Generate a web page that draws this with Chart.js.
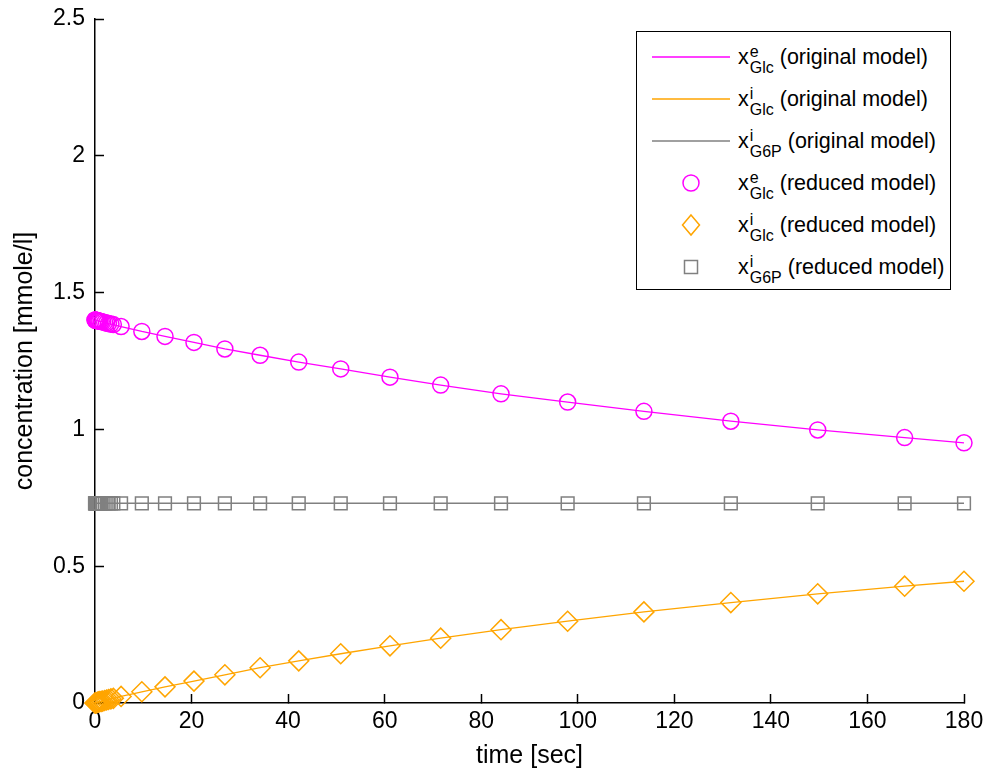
<!DOCTYPE html>
<html>
<head>
<meta charset="utf-8">
<script src="https://cdn.jsdelivr.net/npm/chart.js@4.4.1/dist/chart.umd.min.js"></script>
<style>
  body { margin: 0; background: #fff; }
  #wrap { position: relative; width: 987px; height: 773px; }
  #legend {
    position: absolute; left: 636px; top: 31px; width: 313px; height: 257px;
    border: 1.5px solid #000; background: #fff;
    font-family: "Liberation Sans", Arial, sans-serif; font-size: 21.5px; color: #000;
  }
  .row { position: absolute; left: 0; height: 42px; width: 313px; }
  .row svg { position: absolute; left: 14px; top: 0; }
  .lbl { position: absolute; left: 101px; top: 0; height: 42px; line-height: 42px; white-space: nowrap; }
  .ss { display: inline-flex; flex-direction: column; vertical-align: middle; font-size: 16px; line-height: 16px; margin-left: 1px; margin-top: 4px; }
</style>
</head>
<body>
<div id="wrap">
  <canvas id="myChart" width="987" height="773"></canvas>
  <div id="legend"></div>
</div>
<script>
// time points [sec]
const times = [0, 0.05, 0.1, 0.2, 0.3, 0.45, 0.6, 0.8, 1.0, 1.3, 1.6, 2.0, 2.4, 2.8, 3.3, 3.8,
  5.4, 9.7, 14.5, 20.5, 26.9, 34.2, 42.2, 50.9, 61.1, 71.6, 84.1, 97.9, 113.7, 131.7, 149.7, 167.7, 180]

// extracellular glucose
const glcExt = [1.400, 1.400, 1.400, 1.399, 1.399, 1.398, 1.397, 1.396, 1.395, 1.394, 1.393, 1.391, 1.389, 1.387, 1.385, 1.383,
  1.376, 1.358, 1.340, 1.318, 1.294, 1.271, 1.246, 1.221, 1.191, 1.162, 1.130, 1.100, 1.066, 1.030, 0.998, 0.970, 0.951]

// intracellular glucose
const glcInt = [0.000, 0.000, 0.000, 0.001, 0.001, 0.002, 0.003, 0.004, 0.005, 0.006, 0.007, 0.009, 0.011, 0.013, 0.015, 0.017,
  0.024, 0.041, 0.059, 0.080, 0.103, 0.129, 0.154, 0.180, 0.209, 0.237, 0.268, 0.299, 0.333, 0.367, 0.399, 0.427, 0.445]

// intracellular G6P
const g6pInt = [0.73, 0.73, 0.73, 0.73, 0.73, 0.73, 0.73, 0.73, 0.73, 0.73, 0.73, 0.73, 0.73, 0.73, 0.73, 0.73,
  0.73, 0.73, 0.73, 0.73, 0.73, 0.73, 0.73, 0.73, 0.73, 0.73, 0.73, 0.73, 0.73, 0.73, 0.73, 0.73, 0.73]

const xTicks = [0, 20, 40, 60, 80, 100, 120, 140, 160, 180]
const yTicks = [0, 0.5, 1, 1.5, 2, 2.5]

const MAGENTA = '#ff00ff'
const ORANGE = '#ffa500'
const GRAY = '#808080'
const FONT = '"Liberation Sans", Arial, sans-serif'

function pts(ys) {
  return times.map((t, i) => ({ x: t, y: ys[i] }))
}

function lineSet(ys, color) {
  return { data: pts(ys), showLine: true, borderColor: color, borderWidth: 1.3, pointRadius: 0, clip: false, order: 2 }
}

function markerSet(ys, color, style, r) {
  return { data: pts(ys), showLine: false, pointStyle: style, pointRadius: r, borderColor: color,
    backgroundColor: 'rgba(0,0,0,0)', pointBorderWidth: 1.5, clip: false, order: 1 }
}

// tick marks only, pointing into the plot (negative length)
const tickGrid = { display: true, drawOnChartArea: false, drawTicks: true, tickLength: -9, tickColor: '#000', tickWidth: 1.5 }

const chart = new Chart(document.getElementById('myChart').getContext('2d'), {
  type: 'scatter',
  data: {
    datasets: [
      lineSet(glcExt, MAGENTA),
      lineSet(glcInt, ORANGE),
      lineSet(g6pInt, GRAY),
      markerSet(glcExt, MAGENTA, 'circle', 8),
      markerSet(glcInt, ORANGE, 'rectRot', 10),
      markerSet(g6pInt, GRAY, 'rect', 9)
    ]
  },
  options: {
    responsive: false,
    animation: false,
    devicePixelRatio: 1,
    layout: { padding: { left: 0, right: 23, top: 19, bottom: 0 } },
    plugins: { legend: { display: false }, tooltip: { enabled: false } },
    scales: {
      x: {
        type: 'linear', min: 0, max: 180,
        afterFit(scale) { scale.height = 70; scale.paddingLeft = 0; scale.paddingRight = 0 },
        afterBuildTicks(scale) { scale.ticks = xTicks.map(v => ({ value: v })) },
        grid: tickGrid,
        border: { display: true, color: '#000', width: 1.5 },
        ticks: { color: '#000', font: { family: FONT, size: 23 }, padding: 14, maxRotation: 0, callback: v => String(v) },
        title: { display: true, text: 'time [sec]', color: '#000', font: { family: FONT, size: 25 }, padding: { top: 2, bottom: 2 } }
      },
      y: {
        type: 'linear', min: 0, max: 2.5,
        afterFit(scale) { scale.width = 95; scale.paddingTop = 0; scale.paddingBottom = 0 },
        afterBuildTicks(scale) { scale.ticks = yTicks.map(v => ({ value: v })) },
        grid: tickGrid,
        border: { display: true, color: '#000', width: 1.5 },
        ticks: { color: '#000', font: { family: FONT, size: 23 }, padding: 19, callback: v => String(v) },
        title: { display: true, text: 'concentration [mmole/l]', color: '#000', font: { family: FONT, size: 25 }, padding: { top: 10, bottom: 0 } }
      }
    }
  }
})

// legend with super/subscripts
const legendRows = [
  { sup: 'e', sub: 'Glc', txt: '(original model)', color: MAGENTA, kind: 'line' },
  { sup: 'i', sub: 'Glc', txt: '(original model)', color: ORANGE, kind: 'line' },
  { sup: 'i', sub: 'G6P', txt: '(original model)', color: GRAY, kind: 'line' },
  { sup: 'e', sub: 'Glc', txt: '(reduced model)', color: MAGENTA, kind: 'circle' },
  { sup: 'i', sub: 'Glc', txt: '(reduced model)', color: ORANGE, kind: 'diamond' },
  { sup: 'i', sub: 'G6P', txt: '(reduced model)', color: GRAY, kind: 'square' }
]

const legend = document.getElementById('legend')
legendRows.forEach((r, i) => {
  let shape = ''
  if (r.kind == 'line') shape = `<line x1="1" y1="21" x2="79" y2="21" stroke="${r.color}" stroke-width="1.3"/>`
  if (r.kind == 'circle') shape = `<circle cx="40" cy="21" r="8" fill="none" stroke="${r.color}" stroke-width="1.5"/>`
  if (r.kind == 'diamond') shape = `<polygon points="40,11 48.5,21 40,31 31.5,21" fill="none" stroke="${r.color}" stroke-width="1.5"/>`
  if (r.kind == 'square') shape = `<rect x="33.5" y="14.5" width="13" height="13" fill="none" stroke="${r.color}" stroke-width="1.5"/>`
  const row = document.createElement('div')
  row.className = 'row'
  row.style.top = (4 + i * 41.9) + 'px'
  row.innerHTML = `<svg width="80" height="42">${shape}</svg>` +
    `<span class="lbl">x<span class="ss"><span>${r.sup}</span><span>${r.sub}</span></span> ${r.txt}</span>`
  legend.appendChild(row)
})
</script>
</body>
</html>
